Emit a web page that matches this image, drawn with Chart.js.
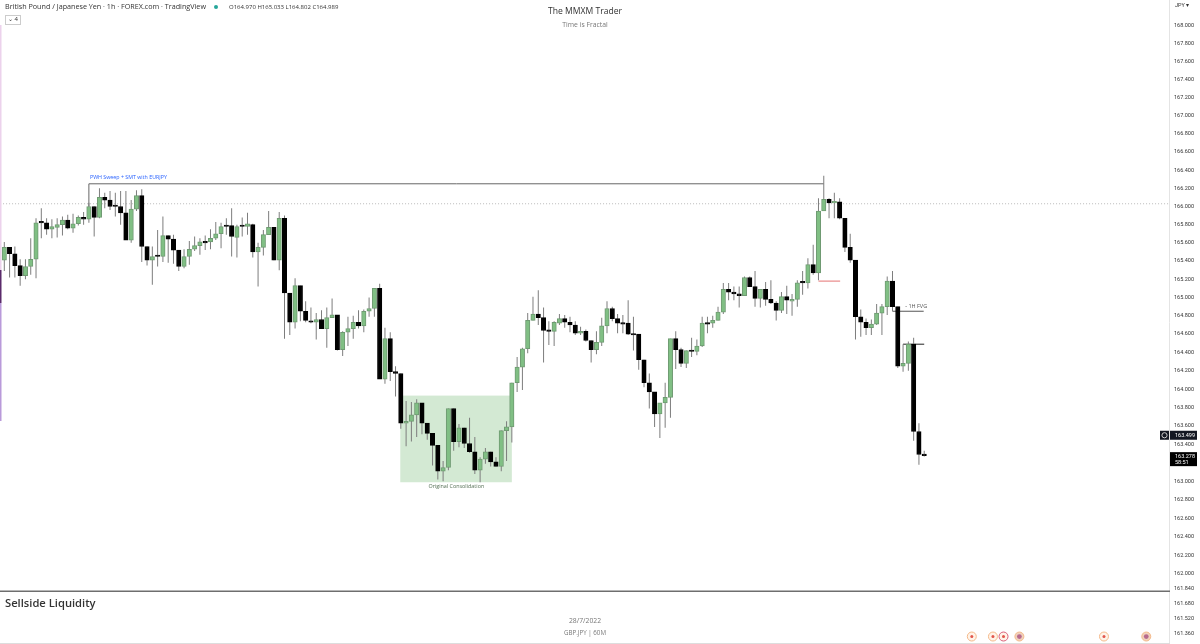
<!DOCTYPE html>
<html>
<head>
    <meta charset="UTF-8">
    <title>GBP.JPY 60M</title>
    <script src="https://cdn.jsdelivr.net/npm/chart.js"></script>
    <style>
        html, body { margin: 0; padding: 0; background: #fff; overflow: hidden; }
        canvas { display: block; }
    </style>
</head>
<body>
    <canvas id="priceChart" width="1200" height="644"></canvas>

    <script>
        // Candles (1h GBP/JPY)
        const opens = [
            165.41,165.55,165.48,165.35,165.24,165.34,165.42,165.83,165.82,165.75,
            165.77,165.80,165.85,165.76,165.81,165.88,165.86,166.00,165.88,166.10,
            166.07,166.01,166.00,165.93,165.63,165.97,166.12,165.56,165.41,165.46,
            165.45,165.68,165.64,165.52,165.34,165.45,165.53,165.57,165.61,165.61,
            165.65,165.70,165.79,165.79,165.66,165.79,165.78,165.80,165.50,165.55,
            165.69,165.77,165.41,165.87,165.05,164.73,165.13,164.85,164.74,164.73,
            164.76,164.66,164.78,164.81,164.43,164.62,164.66,164.73,164.69,164.85,
            164.88,165.10,164.11,164.55,164.19,164.17,163.63,163.65,163.72,163.85,
            163.63,163.52,163.39,163.11,163.15,163.79,163.43,163.58,163.41,163.32,
            163.12,163.24,163.32,163.21,163.16,163.55,163.59,164.07,164.24,164.44,
            164.75,164.82,164.78,164.64,164.63,164.72,164.77,164.73,164.70,164.61,
            164.63,164.53,164.43,164.51,164.69,164.88,164.77,164.72,164.72,164.60,
            164.60,164.32,164.07,163.97,163.73,163.85,163.91,164.55,164.43,164.28,
            164.42,164.41,164.47,164.72,164.72,164.75,164.84,165.09,165.06,165.04,
            165.02,165.22,165.12,164.99,165.09,164.98,164.94,164.86,165.01,164.96,
            164.98,165.17,165.16,165.36,165.27,165.95,166.08,166.04,166.05,165.87,
            165.55,165.41,164.79,164.73,164.67,164.71,164.83,164.90,165.18,164.90,
            164.25,164.28,164.49,163.54,163.29
        ];
        const highs = [
            165.61,165.55,165.56,165.42,165.42,165.65,165.87,165.98,165.87,165.86,
            165.87,165.89,165.91,165.92,165.90,165.94,166.04,166.00,166.20,166.15,
            166.17,166.15,166.17,166.17,166.07,166.18,166.19,165.56,165.56,165.74,
            165.89,165.68,165.69,165.52,165.53,165.62,165.67,165.65,165.68,165.75,
            165.83,165.82,165.87,165.98,165.80,165.88,165.93,165.81,165.60,165.74,
            165.95,165.77,165.94,165.90,165.05,165.21,165.13,164.96,164.89,164.83,
            164.86,164.89,164.99,164.81,164.63,164.79,164.80,164.86,164.87,165.00,
            165.10,165.15,164.67,164.62,164.25,164.17,163.87,163.86,163.89,163.85,
            163.63,163.52,163.39,163.22,163.79,163.79,163.62,163.58,163.69,163.48,
            163.26,163.36,163.32,163.26,163.55,163.65,164.07,164.35,164.45,164.83,
            165.01,165.08,164.89,164.74,164.74,164.82,164.81,164.79,164.74,164.68,
            164.65,164.53,164.63,164.78,164.96,164.90,164.82,164.81,164.97,164.79,
            164.60,164.32,164.17,163.97,163.85,164.07,164.55,164.63,164.45,164.42,
            164.56,164.54,164.79,164.79,164.80,164.90,165.16,165.16,165.12,165.12,
            165.23,165.23,165.29,165.09,165.17,165.19,164.96,165.06,165.13,165.04,
            165.19,165.29,165.43,165.58,166.09,166.34,166.09,166.15,166.09,165.87,
            165.70,165.41,164.87,164.77,164.76,164.93,164.93,165.23,165.29,164.90,
            164.49,164.52,164.56,163.63,163.33
        ];
        const lows = [
            165.29,165.22,165.22,165.13,165.20,165.25,165.21,165.65,165.69,165.65,
            165.66,165.68,165.75,165.71,165.79,165.80,165.82,165.67,165.87,165.98,
            165.96,165.89,165.80,165.63,165.60,165.95,165.39,165.35,165.14,165.34,
            165.39,165.38,165.37,165.29,165.32,165.36,165.51,165.47,165.52,165.53,
            165.63,165.54,165.69,165.45,165.44,165.67,165.69,165.44,165.12,165.46,
            165.69,165.41,165.30,164.55,164.59,164.66,164.74,164.73,164.72,164.54,
            164.66,164.45,164.78,164.42,164.36,164.47,164.55,164.66,164.62,164.79,
            164.79,164.11,164.06,164.09,163.92,163.57,163.38,163.43,163.48,163.51,
            163.45,163.17,163.02,163.00,163.12,163.33,163.37,163.36,163.31,163.08,
            162.99,163.19,163.16,163.16,163.11,163.22,163.42,163.97,163.99,164.39,
            164.75,164.70,164.29,164.48,164.47,164.70,164.67,164.62,164.59,164.59,
            164.52,164.29,164.38,164.47,164.61,164.74,164.61,164.61,164.59,164.42,
            164.21,164.02,163.79,163.59,163.47,163.58,163.69,164.22,164.24,164.23,
            164.35,164.37,164.46,164.61,164.67,164.75,164.82,164.97,164.97,164.89,
            165.02,165.12,164.90,164.89,164.91,164.93,164.75,164.83,164.82,164.80,
            164.90,165.03,165.10,165.25,165.19,165.95,165.87,165.87,165.86,165.50,
            165.38,164.54,164.57,164.59,164.59,164.70,164.59,164.81,164.85,164.23,
            164.19,164.20,163.44,163.18,163.27
        ];
        const closes = [
            165.55,165.48,165.35,165.24,165.34,165.42,165.82,165.82,165.75,165.78,
            165.80,165.85,165.76,165.81,165.88,165.86,166.00,165.88,166.10,166.07,
            166.00,166.00,165.93,165.63,165.97,166.12,165.56,165.41,165.45,165.45,
            165.68,165.64,165.52,165.34,165.45,165.53,165.57,165.61,165.60,165.65,
            165.70,165.78,165.78,165.67,165.78,165.78,165.81,165.50,165.55,165.69,
            165.77,165.41,165.87,165.05,164.73,165.13,164.85,164.75,164.73,164.76,
            164.66,164.78,164.81,164.43,164.62,164.66,164.73,164.69,164.85,164.88,
            165.10,164.11,164.55,164.19,164.17,163.63,163.65,163.72,163.85,163.63,
            163.52,163.39,163.11,163.15,163.79,163.43,163.58,163.41,163.32,163.12,
            163.24,163.32,163.21,163.16,163.55,163.59,164.07,164.24,164.44,164.75,
            164.82,164.78,164.64,164.63,164.73,164.77,164.73,164.70,164.61,164.63,
            164.53,164.43,164.51,164.69,164.88,164.77,164.72,164.71,164.60,164.59,
            164.32,164.07,163.97,163.73,163.85,163.91,164.55,164.43,164.28,164.42,
            164.41,164.47,164.72,164.71,164.75,164.84,165.09,165.06,165.04,165.02,
            165.22,165.12,164.99,165.09,164.98,164.94,164.86,165.01,164.97,164.98,
            165.16,165.16,165.36,165.27,165.95,166.08,166.04,166.05,165.87,165.55,
            165.41,164.79,164.73,164.67,164.71,164.83,164.90,165.18,164.90,164.25,
            164.28,164.49,163.54,163.29,163.278
        ];

        // Price axis labels (163.200 is hidden behind the last price tag)
        const priceTicks = [
            168, 167.8, 167.6, 167.4, 167.2, 167, 166.8, 166.6, 166.4, 166.2,
            166, 165.8, 165.6, 165.4, 165.2, 165, 164.8, 164.6, 164.4, 164.2,
            164, 163.8, 163.6, 163.4, 163, 162.8, 162.6, 162.4, 162.2, 162,
            161.84, 161.68, 161.52, 161.36
        ];

        // Drawn objects on the chart: [candle number, price]
        const levelLine = [[0.2, 166.03], [221.3, 166.03]];
        const sweepLine = [[17, 166.00], [17, 166.25], [156, 166.25]];
        const lowMark = [[155, 165.18], [159.1, 165.18]];
        const fvgLine = [[169, 164.85], [174.9, 164.85]];
        const fvgTop = [[171, 164.49], [175, 164.49]];
        const consolidationCandles = [75.9, 97];
        const consolidationPrices = [163.93, 162.99];

        // Calendar events along the bottom
        const eventCandles = [184, 188, 190, 193, 209, 217];
        const eventKinds = ['dot', 'dot', 'ring', 'flag', 'dot', 'flag'];
        const eventPrice = 161.33;

        const candleNumbers = opens.map((_, i) => i + 1);
        const toPoints = line => line.map(p => ({ x: p[0], y: p[1] }));
        const isUp = i => closes[i] >= opens[i];

        function lineSet(line, color, dash) {
            return {
                type: 'line', data: toPoints(line), borderColor: color, borderWidth: 1,
                borderDash: dash || [], pointRadius: 0, tension: 0, order: 3
            };
        }

        function text(ctx, str, x, y, font, color, align) {
            ctx.font = font;
            ctx.fillStyle = color;
            ctx.textAlign = align || 'left';
            ctx.textBaseline = 'middle';
            ctx.fillText(str, x, y);
        }

        const overlay = {
            id: 'overlay',
            beforeDatasetsDraw(chart) {
                const ctx = chart.ctx, xs = chart.scales.x, ys = chart.scales.y;
                const left = xs.getPixelForValue(consolidationCandles[0]);
                const right = xs.getPixelForValue(consolidationCandles[1]);
                const top = ys.getPixelForValue(consolidationPrices[0]);
                const bottom = ys.getPixelForValue(consolidationPrices[1]);
                ctx.save();
                ctx.fillStyle = '#d3e9d3';
                ctx.fillRect(left, top, right - left, bottom - top);
                ctx.restore();
            },
            afterDraw(chart) {
                const ctx = chart.ctx, xs = chart.scales.x, ys = chart.scales.y;
                const font = 'Open Sans, sans-serif';
                ctx.save();

                // Colored edge on the left
                ctx.fillStyle = '#ecd2ec'; ctx.fillRect(0, 25, 1.5, 245);
                ctx.fillStyle = '#5b2b6b'; ctx.fillRect(0, 270, 1.5, 33);
                ctx.fillStyle = '#b99ada'; ctx.fillRect(0, 303, 1.5, 118);

                // Header
                text(ctx, 'British Pound / Japanese Yen · 1h · FOREX.com · TradingView', 5, 7, '7.2px ' + font, '#333');
                ctx.fillStyle = '#26a69a';
                ctx.beginPath(); ctx.arc(216, 7, 2, 0, Math.PI * 2); ctx.fill();
                text(ctx, 'O164.970 H165.033 L164.802 C164.989', 229, 7.5, '6px ' + font, '#333');
                ctx.strokeStyle = '#ccc';
                ctx.strokeRect(5.5, 15.5, 15, 9);
                text(ctx, '⌄ 4', 8, 19.5, '6px ' + font, '#333');
                text(ctx, 'The MMXM Trader', 585, 12, '8.6px ' + font, '#333', 'center');
                text(ctx, 'Time is Fractal', 585, 25, '6.8px ' + font, '#777', 'center');
                text(ctx, 'JPY ▾', 1175, 6, '5.5px Roboto, sans-serif', '#333');

                // Labels next to the drawings
                text(ctx, 'PWH Sweep + SMT with EURJPY', xs.getPixelForValue(17.2), ys.getPixelForValue(166.316), '5.3px ' + font, '#2962ff');
                text(ctx, '- 1H FVG', xs.getPixelForValue(171.4), ys.getPixelForValue(164.90), '5.5px ' + font, '#555');
                text(ctx, 'Original Consolidation', xs.getPixelForValue(86.5), ys.getPixelForValue(162.94), '5.4px ' + font, '#557055', 'center');

                // Price tags
                const bidY = ys.getPixelForValue(163.499);
                ctx.fillStyle = '#131722';
                ctx.fillRect(1170, bidY - 4.5, 27, 9);
                ctx.fillRect(1160, bidY - 4.5, 9, 9);
                ctx.strokeStyle = '#ccc';
                ctx.beginPath(); ctx.arc(1164.5, bidY, 2.6, 0, Math.PI * 2); ctx.stroke();
                text(ctx, '163.499', 1175, bidY + 0.5, '5.5px Roboto, sans-serif', '#fff');
                const lastY = ys.getPixelForValue(163.278);
                ctx.fillStyle = '#000';
                ctx.fillRect(1170, lastY - 3.5, 27, 14);
                text(ctx, '163.278', 1175, lastY + 0.5, '5.5px Roboto, sans-serif', '#fff');
                text(ctx, '58:51', 1175, lastY + 7, '5.5px Roboto, sans-serif', '#fff');

                // Footer
                ctx.fillStyle = '#6e6e6e';
                ctx.fillRect(0, 590.5, 1170, 1.5);
                ctx.fillStyle = '#ddd';
                ctx.fillRect(0, 643, 1170, 1);
                text(ctx, 'Sellside Liquidity', 5, 604, '600 11.2px ' + font, '#333');
                text(ctx, '28/7/2022', 585, 621, '6.8px ' + font, '#777', 'center');
                text(ctx, 'GBP.JPY | 60M', 585, 633, '6.2px ' + font, '#777', 'center');
                ctx.restore();
            }
        };

        new Chart(document.getElementById('priceChart').getContext('2d'), {
            type: 'bar',
            data: {
                datasets: [
                    lineSet(levelLine, '#bbbbbb', [1, 2]),
                    lineSet(sweepLine, '#666666'),
                    lineSet(lowMark, '#e57373'),
                    lineSet(fvgLine, '#555555'),
                    lineSet(fvgTop, '#222222'),
                    {
                        // Wicks
                        data: candleNumbers.map((n, i) => ({ x: n, y: [lows[i], highs[i]] })),
                        backgroundColor: '#7d7d7d',
                        barThickness: 1,
                        inflateAmount: 0,
                        order: 2
                    },
                    {
                        // Bodies
                        data: candleNumbers.map((n, i) => ({ x: n, y: [opens[i], closes[i]] })),
                        backgroundColor: candleNumbers.map((n, i) => isUp(i) ? '#80bf84' : '#000000'),
                        borderColor: candleNumbers.map((n, i) => isUp(i) ? '#6f9a72' : '#000000'),
                        borderWidth: 1,
                        borderSkipped: false,
                        barThickness: 4.4,
                        minBarLength: 1.5,
                        order: 1
                    },
                    {
                        // Event markers: dot on top of a ring
                        type: 'scatter',
                        data: eventCandles.map(n => ({ x: n, y: eventPrice })),
                        pointRadius: eventKinds.map(k => k === 'flag' ? 2.4 : 1.5),
                        pointBackgroundColor: eventKinds.map(k => k === 'flag' ? '#b76a8e' : '#e2574c'),
                        pointBorderWidth: 0,
                        order: 0
                    },
                    {
                        type: 'scatter',
                        data: eventCandles.map(n => ({ x: n, y: eventPrice })),
                        pointRadius: 4.5,
                        pointBackgroundColor: eventKinds.map(k => k === 'flag' ? '#f0d2bc' : '#fff3e8'),
                        pointBorderColor: eventKinds.map(k => k === 'ring' ? '#d9607a' : '#f4b98a'),
                        pointBorderWidth: 1,
                        order: 0.5
                    }
                ]
            },
            options: {
                responsive: false,
                animation: false,
                layout: { padding: 0, autoPadding: false },
                datasets: { bar: { grouped: false } },
                plugins: { legend: { display: false }, tooltip: { enabled: false } },
                scales: {
                    x: { type: 'linear', display: false, min: 0.187, max: 221.3, offset: false },
                    y: {
                        type: 'logarithmic',
                        position: 'right',
                        min: 161.25,
                        max: 168.29,
                        bounds: 'data',
                        grid: { display: false, drawTicks: false },
                        border: { display: true, color: '#e4e4e4' },
                        ticks: {
                            autoSkip: false,
                            padding: 5,
                            color: '#333',
                            font: { family: 'Roboto, sans-serif', size: 5.5 },
                            callback: v => v.toFixed(3)
                        },
                        afterBuildTicks: scale => { scale.ticks = priceTicks.map(v => ({ value: v })); },
                        afterFit: scale => {
                            scale.width = 31;
                            scale.paddingTop = 0;
                            scale.paddingBottom = 0;
                        }
                    }
                }
            },
            plugins: [overlay]
        });
    </script>
</body>
</html>
